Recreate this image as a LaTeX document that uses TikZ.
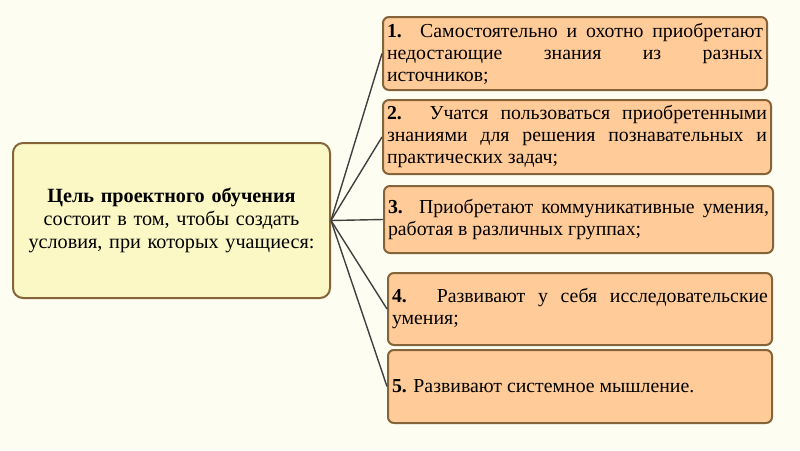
\documentclass[tikz,border=0pt]{standalone}
\usepackage{fontspec}
\setmainfont{Liberation Serif}
\definecolor{fond}{HTML}{FDFDF2}
\definecolor{jaune}{HTML}{FBF8C6}
\definecolor{peche}{HTML}{FFCB98}
\definecolor{brun}{HTML}{85643A}
\tikzset{
  but/.style={draw=brun, line width=2pt, fill=jaune, rounded corners=10pt,
    minimum width=317pt, minimum height=155pt, text width=305pt, align=center,
    font=\fontsize{20.2}{23}\selectfont},
  point/.style={draw=brun, line width=2pt, fill=peche, rounded corners=6pt,
    inner xsep=4pt, inner ysep=2pt, align=justify,
    font=\fontsize{19.8}{22}\selectfont},
  lien/.style={draw=black!75, line width=1.4pt}
}
\begin{document}
\begin{tikzpicture}[x=1pt,y=-1pt]
    % fond
    \fill[fond] (0,0) rectangle (800,450);
    \useasboundingbox (0,0) rectangle (800,450);
    % but
    \node[but] (but) at (171.5,220.5) {\textbf{Цель проектного обучения}\\
      состоит в том, чтобы создать\\условия, при которых учащиеся:};
    % points
    \node[point, text width=376pt, minimum height=73pt] (p1) at (575,53.5)
      {\textbf{1.} Самостоятельно и охотно приобретают недостающие знания из разных\linebreak источников;};
    \node[point, text width=380pt, minimum height=74pt] (p2) at (577,137)
      {\textbf{2.} Учатся пользоваться приобретенными знаниями для решения познавательных и практических задач;};
    \node[point, text width=381pt, minimum height=67pt] (p3) at (578.5,219.5)
      {\textbf{3.} Приобретают коммуникативные умения, работая в различных группах;};
    \node[point, text width=376pt, minimum height=72pt] (p4) at (580,309)
      {\textbf{4.} Развивают у себя исследовательские умения;};
    \node[point, text width=376pt, minimum height=73pt] (p5) at (580,386.5)
      {\textbf{5.} Развивают системное мышление.};
    % liens
    \foreach \i in {1,...,5}
      \draw[lien] (but.east) -- (p\i.west);
\end{tikzpicture}
\end{document}
